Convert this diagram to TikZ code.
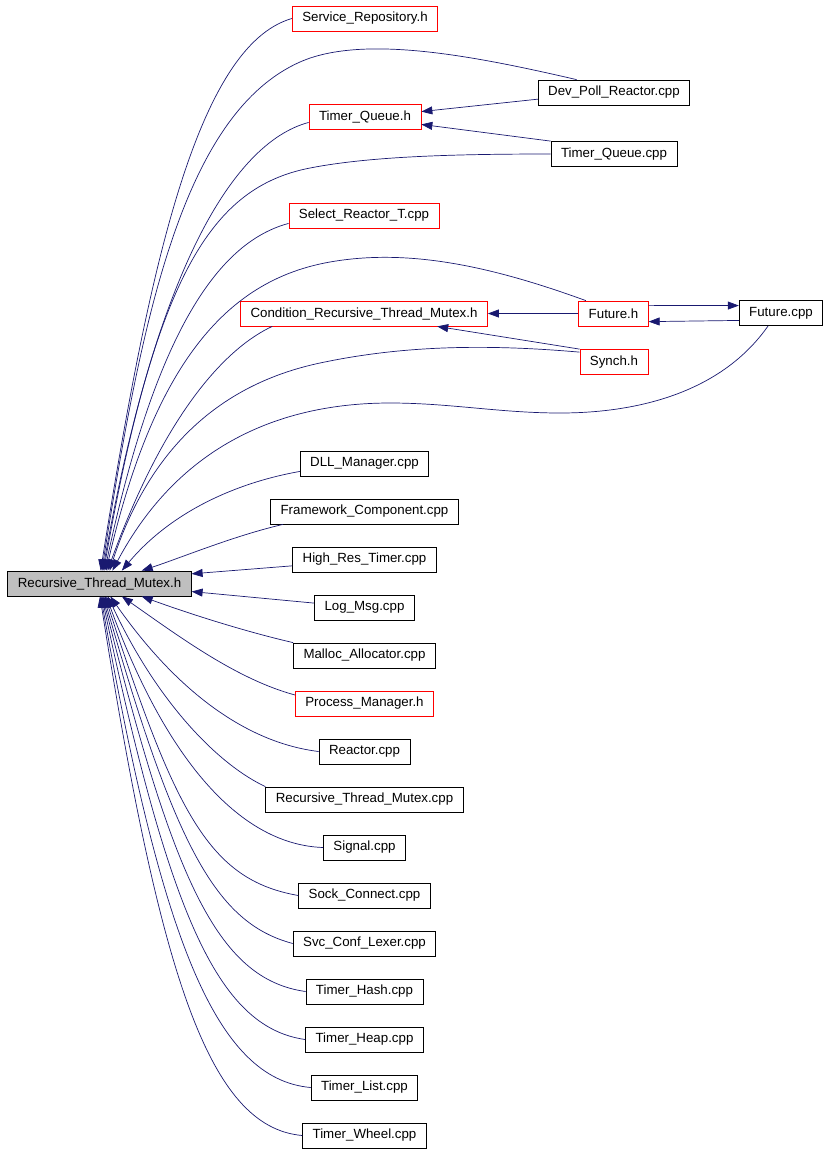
\documentclass[tikz,border=0pt]{standalone}
\usepackage{fontspec}
\setmainfont{Liberation Sans}
\usetikzlibrary{arrows.meta}
\definecolor{edgeblue}{HTML}{191970}
\definecolor{rootgray}{HTML}{BFBFBF}
\tikzstyle{incl}=[draw, rectangle, line width=0.8pt, minimum height=25pt, inner xsep=10pt, inner ysep=0pt, fill=white, font=\fontsize{13.3}{16}\selectfont]
\tikzstyle{trunc}=[incl, draw=red]
\tikzstyle{dep}=[edgeblue, line width=0.7pt, -{Triangle[length=11pt,width=8pt]}]
\newcommand{\incl}{\node[incl]}

\begin{document}
\begin{tikzpicture}[x=1pt,y=-1pt]
\useasboundingbox (0,0) rectangle (829,1152);
% the header itself
\incl[fill=rootgray] (root) at (99.5,583.5) {Recursive\_Thread\_Mutex.h};
% upper files
\node[trunc] (srep) at (365,18.5) {Service\_Repository.h};
\incl (dpr) at (614,92.5) {Dev\_Poll\_Reactor.cpp};
\node[trunc] (tqh) at (365,116.5) {Timer\_Queue.h};
\incl (tqc) at (614,154) {Timer\_Queue.cpp};
\node[trunc] (srt) at (364,215.5) {Select\_Reactor\_T.cpp};
\node[trunc] (crtm) at (364,313.5) {Condition\_Recursive\_Thread\_Mutex.h};
\node[trunc] (futh) at (613.5,313.5) {Future.h};
\incl (futc) at (781,313) {Future.cpp};
\node[trunc] (synch) at (614,362) {Synch.h};
% column of including files
\foreach \n/\txt/\col [count=\i from 0] in {dll/DLL\_Manager.cpp/black, fc/Framework\_Component.cpp/black, hrt/High\_Res\_Timer.cpp/black, lm/Log\_Msg.cpp/black, ma/Malloc\_Allocator.cpp/black, pm/Process\_Manager.h/red, re/Reactor.cpp/black, rtmc/Recursive\_Thread\_Mutex.cpp/black, sig/Signal.cpp/black, sc/Sock\_Connect.cpp/black, scl/Svc\_Conf\_Lexer.cpp/black, th/Timer\_Hash.cpp/black, the/Timer\_Heap.cpp/black, tl/Timer\_List.cpp/black, tw/Timer\_Wheel.cpp/black}{
	\incl[draw=\col] (\n) at (364.5,463.5+48*\i) {\txt};
	}
% edges between the other files
\draw[dep] (dpr.185) -- (tqh.5);
\draw[dep] (tqc.north west) -- (tqh.352);
\draw[dep] (futh.west) -- (crtm.east);
\draw[dep] (synch.north west) -- (crtm.350);
\draw[dep] (futh.13) -- (futc.170);
\draw[dep] (futc.190) -- (futh.347);
% upper fan
\draw[dep] (srep.west) to[out=196,in=81,out distance=100pt,in distance=300pt] (root.85);
\draw[dep] (dpr.161) to[out=167,in=24,out distance=100pt,in distance=70pt] (300,62) to[out=204,in=81,out distance=130pt,in distance=250pt] (root.80);
\draw[dep] (tqh.186) to[out=195,in=80,out distance=80pt,in distance=300pt] (root.76);
\draw[dep] (tqc.west) to[out=180,in=11,out distance=100pt,in distance=60pt] (310,168) to[out=191,in=80,out distance=100pt,in distance=300pt] (root.72);
\draw[dep] (srt.186) to[out=195,in=78,out distance=70pt,in distance=250pt] (root.68);
\draw[dep] (futh.155) to[out=160,in=10,out distance=100pt,in distance=80pt] (330,262) to[out=190,in=77,out distance=100pt,in distance=220pt] (root.63);
\draw[dep] (crtm.188) to[out=205,in=70,out distance=50pt,in distance=170pt] (root.58);
\draw[dep] (synch.164) to[out=175,in=12,out distance=100pt,in distance=80pt] (320,363) to[out=192,in=72,out distance=80pt,in distance=150pt] (root.52);
\draw[dep] (futc.225) to[out=235,in=0,out distance=80pt,in distance=80pt] (560,413) to[out=180,in=0,out distance=60pt,in distance=60pt] (390,403) to[out=180,in=62,out distance=100pt,in distance=150pt] (root.45);
\draw[dep] (dll.187) to[out=190,in=50,out distance=60pt,in distance=80pt] (root.30);
\draw[dep] (fc.189) to[out=193,in=18,out distance=50pt,in distance=40pt] (root.17);
\draw[dep] (hrt.185) -- (root.6);
\draw[dep] (lm.175) -- (root.355);
% lower fan
\draw[dep] (ma.north west) to[out=167,in=340,out distance=50pt,in distance=50pt] (root.343);
\draw[dep] (pm.173) to[out=165,in=325,out distance=60pt,in distance=70pt] (root.330);
\draw[dep] (re.west) to[out=173,in=305,out distance=70pt,in distance=120pt] (root.310);
\draw[dep] (rtmc.north west) to[out=155,in=295,out distance=50pt,in distance=120pt] (root.303);
\foreach \n/\ao/\ai/\lo/\li/\ra in {sig/178/290/80pt/180pt/298, sc/170/288/90pt/230pt/293, scl/165/286/80pt/260pt/288, th/172/284/90pt/290pt/284, the/172/282/90pt/320pt/280, tl/175/280/95pt/350pt/276, tw/175/279/95pt/380pt/272}{
	\draw[dep] (\n.west) to[out=\ao,in=\ai,out distance=\lo,in distance=\li] (root.\ra);
	}
\end{tikzpicture}
\end{document}
